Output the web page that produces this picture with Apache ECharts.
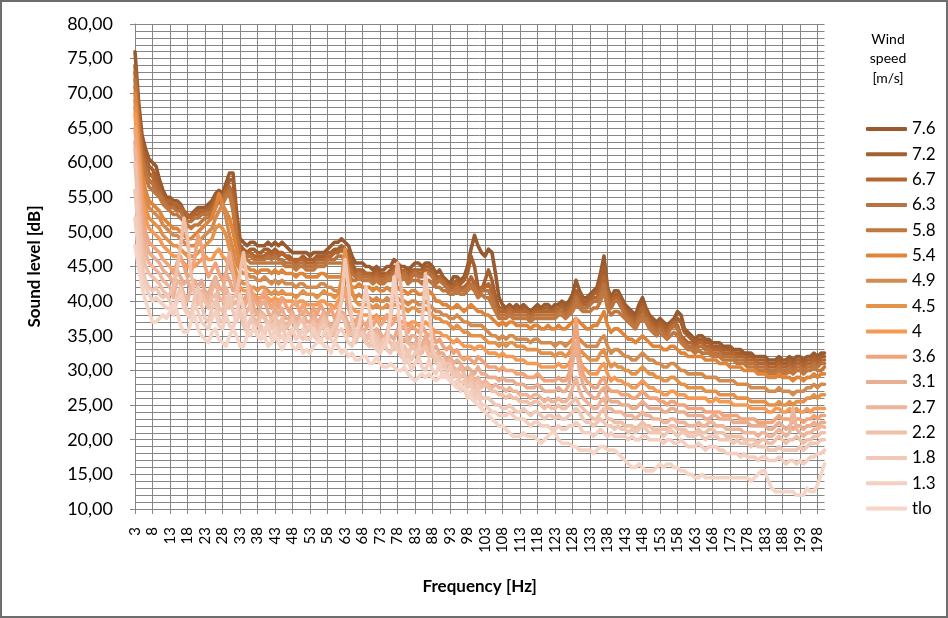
<!DOCTYPE html>
<html><head><meta charset="utf-8">
<script src="https://cdn.jsdelivr.net/npm/echarts@6/dist/echarts.min.js"></script>
<style>
html,body{margin:0;padding:0;background:#fff;}
#frame{position:absolute;left:0;top:0;width:948px;height:618px;box-sizing:border-box;border:2px solid #6d6d6d;}
#c{position:absolute;left:0;top:0;width:948px;height:618px;}
</style></head><body>
<div id="c"></div><div id="frame"></div>
<script>
var freq=[3,4,5,6,7,8,9,10,11,12,13,14,15,16,17,18,19,20,21,22,23,24,25,26,27,28,29,30,31,32,33,34,35,36,37,38,39,40,41,42,43,44,45,46,47,48,49,50,51,52,53,54,55,56,57,58,59,60,61,62,63,64,65,66,67,68,69,70,71,72,73,74,75,76,77,78,79,80,81,82,83,84,85,86,87,88,89,90,91,92,93,94,95,96,97,98,99,100,101,102,103,104,105,106,107,108,109,110,111,112,113,114,115,116,117,118,119,120,121,122,123,124,125,126,127,128,129,130,131,132,133,134,135,136,137,138,139,140,141,142,143,144,145,146,147,148,149,150,151,152,153,154,155,156,157,158,159,160,161,162,163,164,165,166,167,168,169,170,171,172,173,174,175,176,177,178,179,180,181,182,183,184,185,186,187,188,189,190,191,192,193,194,195,196,197,198,199,200];

var s76=[76,69,64,62,60.5,60,59.5,57.5,56,55,
55,54.5,54.5,54,53,52.5,52,53,53.5,53.5,
53.5,54,54.5,55.5,56,55.5,57,58.5,58.5,53,
49,48.5,48,48.5,48.5,48,48,48,48.5,48,
48.5,48,48.5,48,47.5,47,47,47,47,47,
46.5,47,47,47,47,47.5,48,48.5,48.5,49,
48.5,48,46.5,45.5,45.5,45.5,45,45,44.5,45,
44.5,44.5,45,45,46,45.5,45,45,44.5,45,
45.5,45.5,45,45.5,45.5,45,44,44.5,43.5,43,
42.5,43.5,43.5,43,43.5,45,47.5,49.5,48,47,
46.5,47.5,47,44,40.5,39.5,39,39.5,39,39.5,
39,39.5,39,38.5,39,39.5,39,39.5,39.5,39,
39.5,39.5,40,39.5,40,41,43,41.5,40.5,40.5,
41,41.5,42,44,46.5,42,40.5,41.5,41.5,40.5,
39.5,39,38.5,38,39.5,40.5,39,38,37.5,37,
37.5,37,36.5,37,37.5,38.5,38,36,35.5,35,
34.5,35,35,34.5,34.5,34,34,34,33.5,33.5,
33.5,33,33,33,32.5,32.5,32.5,32,32,32,
32,31.5,31.5,31.5,32,31.5,31.5,32,31.5,32,
32,31.5,32,32,32.5,32,32.5,32.5];

var s72=[74,68,63,61,59.5,59,58,56.5,55,54.5,
54,54,53.5,53,52.5,52,52.5,53,53,53,
53,53.5,54,55,55.5,55,56,57.5,57.5,52,
48,47.5,47,47.5,47.5,47,47,47.5,47.5,47,
47.5,47,47,46.5,46.5,46,46,46,46.5,46,
46,46,46.5,46.5,46.5,47,47,47.5,47.5,48,
47.5,47,45.5,44.5,44.5,44.5,44,44,44,44.5,
44,44,44,44.5,45,45,44.5,44,44,44.5,
44.5,44.5,44.5,45,45,44.5,43.5,43.5,43,42.5,
42,42.5,43,42.5,43,44,46.5,45,42,41.5,
43,44.5,43,40.5,39,39,38.5,39,38.5,39,
38.5,39,38.5,38,38.5,39,38.5,39,39,38.5,
39,39,39.5,39,39.5,40,41.5,41,40,40,
40.5,41,41.5,43,45,41.5,40,41,41,40,
39,38.5,38,37.5,38.5,39.5,38.5,37.5,37,36.5,
37,36.5,36,36.5,37,37.5,37,35.5,35,34.5,
34,34.5,34.5,34,34,33.5,33.5,33.5,33,33,
33,32.5,32.5,32.5,32,32,32,31.5,31.5,31.5,
31.5,31,31,31,31.5,31,31,31.5,31,31.5,
31.5,31,31.5,31.5,32,31.5,32,32];

var s67=[73,67,62,60,58.5,58,57,56,55,54.5,
54.5,54,54,53.5,53,52.5,52,52.5,52.5,53,
53,53,53.5,54.5,55.5,55,56,56.5,55,50,
47.5,47,47,47,46.5,46.5,46.5,46.5,47,46.5,
47,46.5,47,46.5,46,46,45.5,46,46,45.5,
45.5,45.5,46,46,46,46.5,46.5,47,47,47.5,
47,46,44.5,44,44.5,44,44,44,43.5,44,
43.5,43.5,44,44,44.5,44.5,44,44.5,43.5,44,
44.5,44,44,44.5,44.5,44,43,43.5,43,42.5,
42,42,42.5,42,42,42.5,43.5,42.5,41.5,42,
42,42.5,41.5,39.5,38.5,38.5,38.5,39,38.5,38.5,
38.5,38.5,38.5,38,38.5,38.5,38.5,38.5,38.5,38.5,
38.5,39,39,38.5,39,39.5,41,40,39.5,39.5,
40,40.5,40.5,42,43.5,41,39.5,40.5,40.5,39.5,
38.5,38,37.5,37,38,39,38,37,36.5,36,
36.5,36,35.5,36.5,37,36.5,35,34.5,34,34,
33.5,34,34,33.5,33.5,33,33,33,32.5,32.5,
32.5,32.5,32,32,32,31.5,31.5,31.5,31,31,
31,30.5,30.5,30.5,31,30.5,30.5,31,30.5,31,
31,30.5,31,31,31.5,31,31.5,31.5];

var s63=[72,66,61,59,57.5,57,56,55.5,54.5,54,
53.5,53.5,53,53,52,51.5,51.5,52,52,52.5,
52.5,52.5,53,54,55,54.5,55.5,56,54,49.5,
47,46.5,46.5,46.5,46,46,46,46,46.5,46,
46.5,46,46,45.5,45.5,45.5,45,45.5,45.5,45,
45,45,45.5,45.5,45.5,46,46,46,46.5,46.5,
46,45,44,43.5,44,43.5,43.5,43.5,43,43.5,
43,43,43.5,43.5,44,44,43.5,44,43,43.5,
44,43.5,43.5,44,44,43.5,42.5,43,42.5,42,
41.5,41.5,42,41.5,41.5,42,42.5,42,41,41.5,
41.5,41.5,40.5,39,38,38,38,38.5,38,38,
38,38,38,37.5,38,38,38,38,38,38,
38,38.5,38.5,38,38.5,39,40.5,39.5,39,39,
39.5,40,40,41,42.5,40,39,40,40,39,
38,37.5,37,36.5,37.5,38,37.5,36.5,36,35.5,
36,35.5,35,36,36.5,36,34.5,34,33.5,33.5,
33,33.5,33.5,33,33,32.5,32.5,32.5,32,32,
32,32,31.5,31.5,31.5,31,31,31,30.5,30.5,
30.5,30,30,30,30.5,30,30,30.5,30,30.5,
30.5,30,30.5,30.5,31,30.5,31,31];

var s58=[71,65,60,58,56.5,56,55.5,55,54,53.5,
53,52.5,52.5,52,51.5,51,50.5,51,51,51.5,
52,52,52.5,53.5,54.5,54,55,55.5,53,49,
46.5,46,46,45.5,45.5,45.5,45.5,45.5,45.5,45.5,
45.5,45.5,45.5,45,45,45,44.5,45,45,44.5,
44.5,44.5,45,45,45,45.5,45.5,45.5,45.5,45.5,
45,44,43,43,43.5,43,43,43,42.5,43,
42.5,42.5,43,43,43.5,43.5,43,43.5,42.5,43,
43,43,42.5,43,43,42.5,42,42,41.5,41.5,
41,41,41.5,41,41,41.5,42,41.5,40.5,41,
40.5,40.5,39.5,38.5,37.5,37.5,37.5,38,37.5,37.5,
37.5,37.5,37.5,37,37.5,37.5,37.5,37.5,37.5,37.5,
37.5,38,38,37.5,38,38.5,39.5,39,38.5,38.5,
38.5,39,39,40,41.5,39,38,38.5,38.5,38,
37.5,37,36.5,36,37,37.5,37,36,35.5,35,
35.5,35,34.5,35,35.5,35,34,33.5,33,33,
32.5,33,32.5,32.5,32.5,32,32,32,31.5,31.5,
31.5,31.5,31,31,31,30.5,30.5,30.5,30,30,
30,29.5,29.5,29.5,30,29.5,29.5,30,29.5,30,
30,29.5,30,30,30.5,30,30,30.5];

var s54=[70,64,58.5,56,54.5,54,53.5,53,52,51.5,
51,50.5,50.5,50,49.5,49,49,49.5,50,50.5,
51,51.5,52,53.5,55.5,54,53,52,50,47.5,
45.5,45,45,44.5,44.5,44,44.5,44.5,44.5,44,
44.5,44,44.5,44,44,44,43.5,44,44,43.5,
43.5,43.5,43.5,44,44,43.5,43.5,43.5,43.5,43.5,
43,42.5,42,42,42.5,42,42,42,41.5,42,
41.5,41.5,42,41.5,42,42,41.5,41.5,41,41.5,
41.5,41,41,41.5,41.5,41,40,40,39.5,39.5,
39,39,39.5,39,38.5,39,39.5,39,38.5,38.5,
38,38,37.5,37,36.5,37,36.5,37,37,36.5,
36.5,36.5,36.5,36,36.5,36.5,36,36,36.5,36,
36,36.5,36,36,36.5,37,37.5,37,36.5,36,
36,36.5,36.5,37.5,38.5,36.5,35.5,36,36,35.5,
35,34.5,34.5,34,34.5,35,34.5,34,33.5,33.5,
33.5,33,33,33.5,33.5,33,32.5,32.5,32,32,
32,32,32,31.5,31.5,31.5,31.5,31,31,31,
30.5,30.5,30.5,30.5,30,30,30,30,29.5,29.5,
29.5,29,29,29,29.5,29,29,29,28.5,29,
29,28.5,29,29,29.5,29,29.5,29.5];

var s49=[69,63,57.5,55,53.5,53,52.5,52,51,50.5,
50,49.5,49.5,49,48.5,48,48,48,48.5,49,
49.5,50,50.5,52,53,54,52,49.5,47.5,45.5,
44.5,44,44,43.5,43.5,43,43,43.5,43,42.5,
43,42.5,43,42.5,42.5,42.5,42,42.5,42.5,42,
42,42,42,42.5,42.5,42,42,41.5,41.5,41,
41,41.5,41,40.5,41,40.5,40.5,40.5,40,40.5,
40,40,40.5,40,40.5,40.5,40,40,39.5,40,
40,39.5,39.5,40,39.5,39,38.5,38.5,38,38,
37.5,37.5,38,37.5,37,37,36.5,36.5,36.5,36.5,
36,35.5,35,35,34.5,35,34.5,35,35,34.5,
34.5,34.5,34.5,34,34.5,34.5,34,34,34,34,
33.5,34,34,33.5,34,34.5,35,34.5,34,33.5,
33.5,33.5,33.5,34.5,35,33.5,32.5,33,33,32.5,
32,32,31.5,31.5,32,32.5,32,31.5,31.5,31,
31,30.5,30.5,31,31,30.5,30,30,29.5,29.5,
29.5,29.5,29.5,29,29,29,29,28.5,28.5,28.5,
28.5,28.5,28,28,28,28,27.5,27.5,27.5,27.5,
27.5,27,27,27,27.5,27,27,27,26.5,27,
27,27,27.5,27.5,28,27.5,28,28];

var s45=[68,62,56.5,53.5,52,51.5,51,50.5,49.5,49,
48.5,48,48,47.5,47,46.5,46.5,46.5,47,47.5,
48,48.5,49,50.5,51,50.5,49.5,47.5,45.5,44,
43,42.5,42.5,42,42,41.5,42,42,41.5,41,
41.5,41,41.5,41,41,41,40.5,41,41.5,41,
41,41,40.5,41,41.5,41,41,40.5,41,43,
47.5,44,41.5,40,39.5,39.5,39.5,39.5,39,39.5,
39,39,39.5,39,39.5,39.5,39,39,38.5,39,
39,38.5,38.5,39,38.5,38,37.5,37.5,37,37,
36.5,36,36.5,36,35.5,35.5,35,35,35,35,
34.5,34,34,34,33.5,34,33.5,34,34,33.5,
33.5,33.5,33,33,33,33,32.5,32.5,32.5,32.5,
32,32.5,32.5,32,32.5,33.5,34,33,32.5,32,
31.5,31.5,31.5,32.5,33,31.5,30.5,31,30.5,30.5,
30,30,29.5,29.5,30,30.5,30,29.5,29.5,29,
29,28.5,28.5,29,29,28.5,28,28,27.5,27.5,
27.5,27.5,27.5,27,27,27,27,26.5,26.5,26.5,
26.5,26.5,26,26,26,26,25.5,25.5,25.5,25.5,
25.5,25,25,25,25.5,25,25,25.5,25,25.5,
25.5,25.5,26,26,26.5,26,26.5,26.5];

var s40=[67,61,55,52,50.5,50,49.5,49,48,47.5,
47,46.5,46.5,46,45.5,45,45,45,45.5,46,
46.5,46,46,47,47.5,46.5,46,45,44,43,
42,41.5,41.5,41,41,40.5,40.5,40.5,40.5,40,
40.5,40,40.5,40,40,40,39.5,40,40,39.5,
39.5,39.5,39.5,40,40,39.5,39.5,39,40,41,
42,40,39,38.5,38.5,38,38,38,37.5,38,
37.5,37.5,38,37.5,37.5,37.5,37,37,36.5,37,
37,36.5,36.5,37,36.5,36,35.5,35.5,35,35,
34.5,34,34.5,34,33.5,33.5,33.5,33,33.5,33.5,
33,32.5,32.5,32.5,32,32.5,32,32,32,31.5,
31.5,31.5,31,31,31,31,30.5,30.5,30.5,30.5,
30.5,31,30.5,30.5,31,32,33.5,31.5,30.5,30,
29.5,29.5,29.5,30.5,31,29.5,28.5,29,28.5,28.5,
28,28,27.5,27.5,28,28.5,28,27.5,27.5,27,
27,26.5,26.5,27,27,26.5,26.5,26.5,26,26,
26,26,26,26,25.5,25.5,26,25.5,25.5,25.5,
25.5,25,25,25,25,25,24.5,24.5,24.5,24.5,
24.5,24,24,24.5,24.5,24,24,24.5,24,24.5,
24,24,24.5,24,24.5,24.5,24.5,24.5];

var s36=[65,59,53,50,48.5,48,47.5,47,46,45.5,
45,44,45.5,46.5,45,43.5,44,46,49.5,48,
45,43.5,44.5,45.5,44,43,44,43,41.5,42,
41,40,41,42,40.5,39.5,40.5,41.5,40,39,
40,39,40.5,39.5,38.5,39.5,40,38.5,39.5,38.5,
38,39,38,39.5,38.5,38,39,37.5,38.5,40,
41.5,39,37.5,37,38,37,36.5,37.5,36.5,37.5,
36.5,37,38,36.5,37,38,36,36.5,35.5,36.5,
36,35.5,36.5,35.5,35,35.5,34,34.5,33.5,33,
33.5,32.5,33,32,31.5,32,31.5,31,32,31.5,
31,30.5,30.5,30.5,30,30.5,30,30,30,29.5,
29.5,29.5,29,29,29,29.5,29,28.5,28.5,28.5,
28.5,29,28.5,28.5,29.5,33,37.5,32,29.5,28.5,
28,27.5,27.5,28.5,29,27.5,27,27,27,26.5,
26.5,26.5,26,26,26.5,27,26.5,26,26,26,
25.5,25.5,25,25.5,25.5,25,25,25,24.5,24.5,
24.5,24.5,24.5,24,24,24,24,24,23.5,23.5,
23.5,23.5,23.5,23,23,23,23,23,22.5,22.5,
22.5,22.5,22.5,23,23.5,23,23,23,22.5,23,
23,22.5,23,23,23.5,23,23.5,23.5];

var s31=[63,57,51,48.5,47,46.5,46,45.5,44.5,44,
43.5,42.5,44.5,43.5,42.5,43,41.5,43,42,43,
41.5,41,42.5,43.5,42,41.5,44,47,44,41,
40,39,40,41,39,38,39.5,40,38.5,37.5,
39,38,39,37.5,37.5,38.5,37,38,38.5,37,
37,38,37,37.5,38.5,37,36.5,37,38,38.5,
38,36.5,36,36.5,37,35.5,36,37,35,36,
35.5,34.5,35.5,35,34.5,36,34,34.5,34,35,
35,34,33.5,35,34,33,33.5,32.5,32.5,31.5,
32,31,31.5,31,30,30.5,30,29.5,30.5,29.5,
29.5,29,29,29,28.5,29,28.5,28.5,28.5,28,
28,28,27.5,27.5,27.5,28,27.5,27,27,27,
27,27.5,27,27,28,31,34,30,28,27,
26.5,26,26,27,27.5,26,25.5,25.5,25.5,25,
25,25,24.5,24.5,25,25.5,25,24.5,24.5,24.5,
24.5,24,24,24.5,24.5,24,24,24,23.5,23.5,
23.5,23.5,23.5,23,23,23.5,23.5,23,23,23,
23,22.5,22.5,22.5,22.5,22.5,22,22,22,22,
22,21.5,21.5,22,22.5,22,21.5,22,21.5,22,
22,21.5,22,22,22.5,22,22.5,22.5];

var s27=[62,55,49,47,45.5,45,44.5,44,43,42.5,
42,40.5,43,42.5,41,40,42,41.5,40,41.5,
41,40,41.5,43,40.5,40,42,40.5,39.5,40,
38.5,37.5,38.5,39.5,37.5,37,38.5,38,36.5,37,
38,36.5,37.5,36.5,37,38,36.5,37.5,37,36,
36.5,37.5,36,37,38,36.5,36,35.5,37,38,
37,35.5,36,34.5,35.5,36,34.5,35.5,34,35.5,
34.5,34,35.5,37.5,41,45.5,42,37,34,33.5,
34,33,32.5,34,33,32,32.5,31.5,31.5,30.5,
31.5,30.5,30,30.5,29.5,28.5,29.5,28.5,29,28,
28.5,28,27.5,28,27.5,27.5,27,27.5,27,27,
26.5,26.5,26.5,26,26.5,26.5,26,25.5,26,25.5,
25.5,26,25.5,25.5,26,27.5,29,27,26,25.5,
25,24.5,24.5,25.5,26,24.5,24.5,24,24,24,
23.5,23.5,23.5,23,23.5,24,23.5,23.5,23,23,
23,22.5,22.5,23,23,22.5,22.5,22.5,22,22,
22,22.5,22,22,22.5,22.5,22,22,22,21.5,
21.5,21.5,21.5,21.5,21,21,21,21,20.5,21,
21,20.5,20.5,21,21.5,21,20.5,21,24.5,21.5,
21,20.5,21,21,21.5,21.5,22,21.8];

var s22=[60,53,47.5,45,44,43.5,43,42.5,41.5,41,
41,42,44.5,48,52,49,44,41,39.5,41,
40,39,40.5,41,39,38.5,40.5,39,40.5,41,
44,47,43,39,37,36.5,38,37.5,36.5,37.5,
38,36,37.5,36,36.5,37.5,36,37,37.5,35.5,
36,37,35.5,36.5,37.5,36,35.5,35,37,38,
37,35,35.5,34,35.5,35,34,35.5,33.5,35,
34,33.5,35,34,33,34,32.5,33.5,32,33.5,
33,32,33,33.5,32,32.5,31,32,30.5,31,
31,29.5,30,29,29.5,28,29,27.5,28.5,27.5,
28,27.5,27,27,26.5,26.5,26,26.5,26,26,
25.5,25.5,25.5,25,25.5,25.5,25,24.5,25,24.5,
24.5,25,24.5,24.5,25,25.5,26,25,24.5,24,
23.5,23,23,24,24.5,23,23,22.5,22.5,22.5,
22,22,22,21.5,22,22.5,22,22,21.5,21.5,
21.5,21.5,21.5,22,22,21.5,21.5,21.5,21,21,
21,21.5,21,21,21.5,21.5,21,21,21,20.5,
20.5,20.5,20.5,20.5,20,20,20,20,19.5,20,
20,19.5,19.5,20,20.5,20,19.5,20,20,20.5,
20,19.5,20,20,20.5,20.5,21,21];

var s18=[56,50,45,43,42,41.5,42,41,40.5,41,
40,38.5,40.5,42,40,38.5,38,40.5,42,39.5,
37.5,37,39,40,37.5,37,39,41,38.5,37,
38.5,36.5,35.5,37.5,36.5,35,36.5,35,37,36,
37,35,36.5,35,34.5,36,36.5,35,34.5,36,
36.5,35,34.5,36,36.5,34.5,35.5,36.5,37.5,40,
46,42,37,34.5,35,35.5,34,33.5,35.5,34,
33,34.5,33,32.5,34,33,32,31.5,33,31.5,
32.5,33,36.5,44,39,33,32,31,31.5,29.5,
30.5,29,29.5,28,28.5,27.5,28,26.5,27.5,26,
26,26,25.5,25,25,24.5,24.5,25,24.5,24,
24,24.5,24,23.5,24,24,23.5,23,23.5,23.5,
23,23.5,23,23,23.5,24,24.5,24,23,22.5,
22.5,22,22.5,23,22.5,22,22,21.5,22,21.5,
21.5,21,21.5,21,21.5,22,21.5,21,21,21,
21,20.5,21,21.5,21,20.5,21,21,20.5,20.5,
20.5,21,20.5,20,20.5,20.5,20.5,20,20,20,
20,19.5,20,19.5,19.5,19.5,19,19.5,19,19,
19,18.5,18.5,18.5,19,18.5,18.5,18.5,18.5,18.5,
19,18.5,19,19.5,19.5,19.5,20,20];

var s13=[52,47,43.5,42,41,40,40.5,40,39.5,39,
39,38,40,41,39,38,37.5,39.5,38.5,37,
36.5,36,37.5,38.5,36.5,36,38,36.5,36,38,
41,39,36,35,36.5,35,34.5,36,36.5,34.5,
36,34.5,35,34,35.5,36,34.5,35,36,34.5,
34.5,36,35,34,35.5,36,34.5,34,35.5,36,
35,34,33.5,35,36.5,39,42,38.5,34,33,
32.5,33.5,34,38,43.5,40,34.5,31,31.5,30,
31,32,30.5,30,31.5,30,29.5,31,29,29.5,
29,28,28.5,27,27.5,26,27,25.5,26.5,25,
25,24.5,24,24,23.5,23.5,23.5,24,23.5,23,
23,23,22.5,22,22.5,22.5,22,22,22,21.5,
21.5,22,21.5,21.5,22,22,22.5,22,21,21,
21,20.5,21,21.5,21,20.5,21,20.5,20.5,20.5,
20.5,20,20.5,20,20,20.5,20.5,20,20,20,
20,19.5,20,20,19.5,19.5,20,19.5,19,19,
19,19.5,19,18.5,19,19,19,18.5,18.5,18,
18,18,18,17.5,18,17.5,17.5,17.5,17,17.5,
17.5,17,17,17,17.5,17,16.5,17,17,16.5,
17,16.5,17,17.5,17.5,18,18,18.5];

var tlo=[48,45,42,40,38.5,37,37,37.5,38,37.5,
38.5,39.5,38.5,36.5,35.5,35.5,37,38,36,35,
34.5,34,35.5,36,34.5,34,33.5,35,36,35,
33.5,33.5,35,35.5,36,35,34.5,35,33.5,34,
35,34,33,34,35,33.5,33,34,32.5,33,
32.5,33.5,34,34.5,33.5,33.5,32.5,34,33.5,32.5,
33,32,32.5,31.5,31.5,32,32,31,31,32,
31,30.5,30.5,31,30.5,30,30,30.5,29.5,29,
28.5,29,29.5,29,29.5,29,28.5,29,29.5,29,
28.5,28,27.5,28,27.5,27,26,25.5,25,24.5,
24,23.5,23,22.5,22,22,21.5,21,20.5,20.5,
20.5,21,20.5,20.5,20.5,20,19.5,20,20.5,21,
21,20,19.5,19.5,19.5,19,19,18.5,18.5,18.5,
18.5,18,18.5,19,19,18.5,18.5,18.5,18,17.5,
17,16.5,16,16,16.5,16,15.5,15.5,15.5,16,
16.5,16,16.5,16.5,16,16,15.5,15.5,15,15,
14.5,14.5,15,14.5,14.5,14.5,14.5,14.5,14.5,14.5,
14.5,14.5,14.5,14.5,14.5,14.5,14,14.5,15,15.5,
15.5,14,13,12.5,12.5,12.5,12.5,12.5,12.5,12,
12,12,13,12.5,12.5,13.5,15,16.5];

var seriesNames=['7.6','7.2','6.7','6.3','5.8','5.4','4.9','4.5','4','3.6','3.1','2.7','2.2','1.8','1.3','tlo'];
var seriesData=[s76,s72,s67,s63,s58,s54,s49,s45,s40,s36,s31,s27,s22,s18,s13,tlo];
var seriesColors=['#985a2e','#a4602f','#b4662e','#b87341','#c0783f','#e0843a','#d48b4d','#e4924a','#f59a55','#f1a47a','#e9ad90','#eeb59b','#f1c0a8','#f0c8b6','#f4cfc0','#f7d5c6'];
var legendTitle=['Wind','speed','[m/s]'];

var FONT='Lato, "Open Sans", sans-serif';
var chart=echarts.init(document.getElementById('c'),null,{renderer:'canvas'});
var bad=[];
seriesData.forEach(function(d,i){if(d.length!==freq.length)bad.push(seriesNames[i]+':'+d.length);});

var series=seriesNames.map(function(n,i){
  return {name:n,type:'line',data:seriesData[i],showSymbol:false,symbol:'none',smooth:false,
    lineStyle:{width:3.6,color:seriesColors[i],join:'round',cap:'round'},itemStyle:{color:seriesColors[i]},
    emphasis:{disabled:true},silent:true,animation:false};
});

var graphics=legendTitle.map(function(t,i){
  return {type:'text',x:888,y:32+i*19.5,style:{text:t,font:'14px '+FONT,fill:'#000',textAlign:'center'}};
});
if(bad.length){graphics.push({type:'text',x:200,y:60,style:{text:'LEN '+bad.join(' '),font:'bold 20px sans-serif',fill:'red'}});}

chart.setOption({
  animation:false,
  backgroundColor:'#fff',
  grid:{left:135,right:123.5,top:24,bottom:109,containLabel:false},
  legend:{orient:'vertical',left:861,top:114,itemWidth:41,itemHeight:4,itemGap:5.3,itemTextGap:2,icon:'roundRect',
    data:seriesNames,selectedMode:false,
    textStyle:{fontFamily:FONT,fontSize:17,lineHeight:20,color:'#000'}},
  xAxis:{type:'category',data:freq,boundaryGap:false,
    axisLine:{lineStyle:{color:'#868686',width:1}},
    axisTick:{interval:4,length:5,lineStyle:{color:'#868686'}},
    axisLabel:{interval:4,rotate:90,fontFamily:FONT,fontSize:15,color:'#000',margin:18},
    splitLine:{show:true,interval:4,lineStyle:{color:'#868686',width:1}},
    name:'Frequency [Hz]',nameLocation:'middle',nameGap:69,
    nameTextStyle:{fontFamily:FONT,fontSize:17,fontWeight:'bold',color:'#000'}},
  yAxis:{type:'value',min:10,max:80,interval:5,
    axisLine:{show:true,lineStyle:{color:'#868686',width:1}},
    axisTick:{show:true,length:5,lineStyle:{color:'#868686'}},
    axisLabel:{fontFamily:FONT,fontSize:18,color:'#000',margin:22,
      formatter:function(v){return v.toFixed(2).replace('.',',');}},
    splitLine:{show:true,lineStyle:{color:'#868686',width:1}},
    minorTick:{show:false,splitNumber:5},
    minorSplitLine:{show:true,lineStyle:{color:'#868686',width:1}},
    name:'Sound level [dB]',nameLocation:'middle',nameGap:92,
    nameTextStyle:{fontFamily:FONT,fontSize:17,fontWeight:'bold',color:'#000'}},
  graphic:graphics,
  series:series
});
</script></body></html>
